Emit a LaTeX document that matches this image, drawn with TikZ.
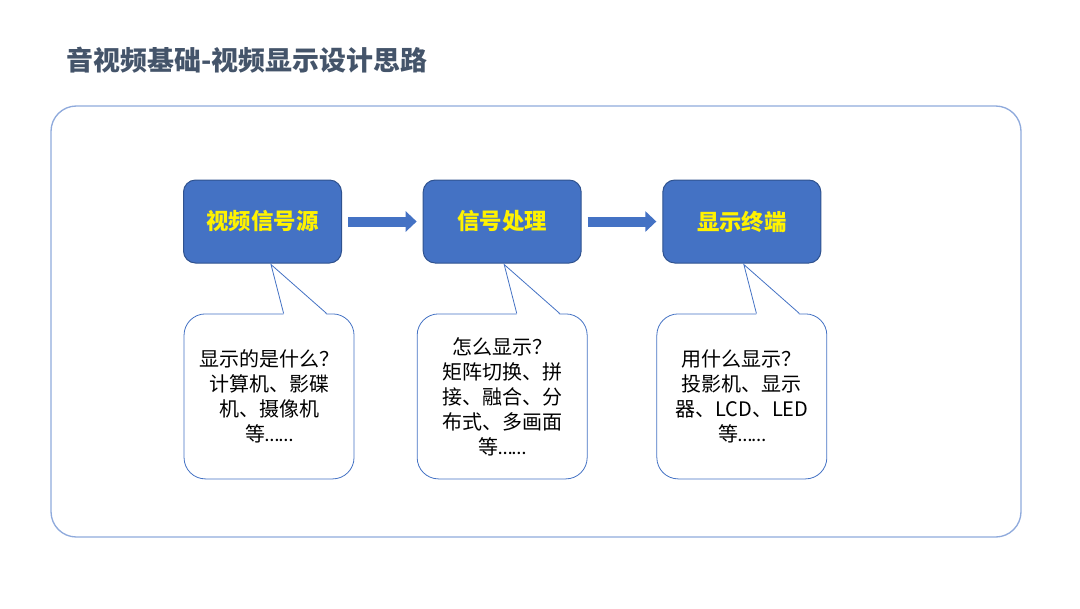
\documentclass[tikz,border=0pt]{standalone}
\usepackage{fontspec}
\setmainfont{Noto Sans CJK SC}
\newfontfamily\latinfont{Carlito}
\usepackage{tikz}
\usetikzlibrary{arrows.meta,positioning,calc}

\definecolor{boxblue}{HTML}{4472C4}
\definecolor{boxedge}{HTML}{2F528F}
\definecolor{frameblue}{HTML}{8FAADC}
\definecolor{titlegray}{HTML}{44546A}

\begin{document}
\begin{tikzpicture}
	[x=0.75pt,y=-0.75pt,node distance=60.5pt,
		stage node/.style={rectangle,rounded corners=9pt,fill=boxblue,draw=boxedge,line width=0.75pt,minimum width=118.5pt,minimum height=62.25pt,text=yellow,font=\fontsize{16.8pt}{20pt}\selectfont\bfseries},
		note node/.style={rectangle,rounded corners=16pt,draw=boxblue,line width=0.6pt,fill=white,minimum width=127.5pt,minimum height=123.75pt,align=center,font=\fontsize{15pt}{18.75pt}\selectfont},
		flow/.style={boxblue,line width=7.5pt,-{Triangle[width=15pt,length=8.25pt]},shorten <=4.5pt,shorten >=4.5pt}]

	\useasboundingbox (0,0) rectangle (1080,608);

	\node[anchor=west,text=titlegray,font=\fontsize{20.2pt}{24pt}\selectfont\bfseries] (title) at (62,60) {音视频基础-视频显示设计思路};
	\draw[frameblue,line width=1pt,rounded corners=19pt] (51,106) rectangle (1021,537);

	\node[stage node]  (src)  at (262.5,221.5) {视频信号源};
	\node[stage node]  [right=of src]  (proc) {信号处理};
	\node[stage node]  [right=of proc] (disp) {显示终端};

	\draw[flow] (src) -- (proc);
	\draw[flow] (proc) -- (disp);

	\node[note node]  [below=37.5pt of src,xshift=4.9pt] (srcnote) {显示的是什么？\\计算机、影碟\\机、摄像机\\等{\latinfont ……}};
	\node[note node]  [below=37.5pt of proc] (procnote) {怎么显示？\\矩阵切换、拼\\接、融合、分\\布式、多画面\\等{\latinfont ……}};
	\node[note node]  [below=37.5pt of disp] (dispnote) {用什么显示？\\投影机、显示\\器、LCD、LED\\等{\latinfont ……}};

	% callout tails
	\foreach \n/\b/\dx in {srcnote/src/8.5, procnote/proc/2, dispnote/disp/2} {
		\fill[white] ($(\n.north west)+(100,1.5)$) -- ($(\b.south)+(\dx,1)$) -- ($(\n.north west)+(143,1.5)$) -- cycle;
		\draw[boxblue,line width=0.6pt] ($(\n.north west)+(100,0)$) -- ($(\b.south)+(\dx,1)$) -- ($(\n.north west)+(143,0)$);
	}

\end{tikzpicture}
\end{document}
